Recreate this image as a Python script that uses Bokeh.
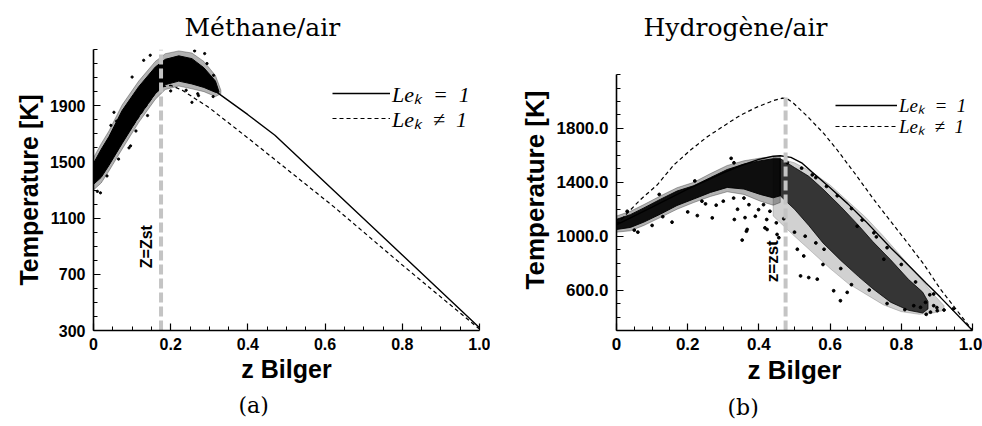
import math
from bokeh.plotting import figure
from bokeh.layouts import row
from bokeh.models import (FixedTicker, Legend, LegendItem, Label, Range1d, Title,
                          PrintfTickFormatter)
from bokeh.embed import file_html
from bokeh.resources import INLINE

# ---------------- data: panel (a) Méthane/air ----------------
title_a = "Méthane/air"
caption_a = "(a)"
x_ticks = [0, 0.2, 0.4, 0.6, 0.8, 1.0]
x_tick_labels = ["0", "0.2", "0.4", "0.6", "0.8", "1.0"]
x_minor = [0.05, 0.1, 0.15, 0.25, 0.3, 0.35, 0.45, 0.5, 0.55, 0.65, 0.7, 0.75, 0.85, 0.9, 0.95]
ya_ticks = [300, 700, 1100, 1500, 1900]
ya_minor = list(range(300, 2301, 100))

a_le1_z = [0.0, 0.1, 0.18, 0.22, 0.27, 0.32, 0.40, 0.47, 0.623, 0.8, 1.0]
a_le1_T = [1350, 1800, 2120, 2140, 2070, 1995, 1836, 1690, 1294, 837, 320]
a_len_z = [0.0, 0.1, 0.17, 0.2, 0.23, 0.3, 0.4, 0.5, 0.623, 0.8, 1.0]
a_len_T = [1350, 1750, 2030, 2045, 2010, 1885, 1670, 1450, 1180, 766, 310]

# dense scatter band: core and its speckled fringe (envelopes)
a_band_z = [0.0, 0.02, 0.04, 0.074, 0.117, 0.16, 0.186, 0.221, 0.255, 0.286, 0.316, 0.325]
a_band_hi = [1490, 1590, 1680, 1865, 2035, 2175, 2230, 2255, 2235, 2170, 2075, 2000]
a_band_lo = [1340, 1390, 1475, 1630, 1820, 1985, 2050, 2075, 2055, 2030, 1995, 1995]
a_fringe_z = [0.0, 0.02, 0.04, 0.074, 0.117, 0.16, 0.186, 0.221, 0.255, 0.286, 0.316, 0.33]
a_fringe_hi = [1530, 1630, 1720, 1905, 2075, 2215, 2270, 2290, 2275, 2215, 2115, 2010]
a_fringe_lo = [1300, 1350, 1435, 1590, 1780, 1945, 2015, 2040, 2020, 2000, 1965, 1985]
# isolated scatter points around the band
a_pts_z = [0.130, 0.147, 0.100, 0.053, 0.096, 0.294, 0.311, 0.255, 0.272,
           0.010, 0.035, 0.060, 0.065, 0.110, 0.140,
           0.200, 0.240, 0.270, 0.288, 0.310, 0.092, 0.018, 0.045, 0.262]
a_pts_T = [2223, 2259, 2104, 1853, 1614, 2200, 2116, 1924, 1972,
           1290, 1400, 1790, 1520, 1720, 1830,
           2005, 2010, 1985, 2271, 1965, 1600, 1280, 1760, 2290]
a_zst = 0.175
a_zst_label = "Z=Zst"
a_zst_label_pos = (0.138, 897)

# ---------------- data: panel (b) Hydrogène/air ----------------
title_b = "Hydrogène/air"
caption_b = "(b)"
yb_ticks = [600, 1000, 1400, 1800]
yb_minor = list(range(300, 2201, 100))

b_le1_z = [0.0, 0.1, 0.2, 0.3, 0.35, 0.4, 0.44, 0.46, 0.49, 0.52, 0.55, 0.6, 0.65, 0.7,
           0.77, 0.82, 0.87, 0.91, 1.0]
b_le1_T = [1085, 1215, 1350, 1470, 1525, 1570, 1594, 1597, 1585, 1545, 1475, 1360, 1240,
           1110, 915, 785, 650, 546, 300]
b_len_z = [0.0, 0.03, 0.067, 0.114, 0.161, 0.208, 0.255, 0.302, 0.348, 0.396, 0.442,
           0.466, 0.48, 0.498, 0.536, 0.582, 0.62, 0.676, 0.723, 0.77, 0.817, 0.863, 0.91, 1.0]
b_len_T = [1085, 1170, 1271, 1380, 1529, 1640, 1738, 1820, 1898, 1960, 2008,
           2025, 2020, 1985, 1890, 1763, 1640, 1443, 1271, 1111, 952, 792, 607, 300]

b_band_z = [0.0, 0.039, 0.077, 0.124, 0.170, 0.217, 0.264, 0.311, 0.358, 0.404, 0.44, 0.46]
b_band_hi = [1125, 1160, 1210, 1275, 1335, 1375, 1435, 1495, 1535, 1560, 1575, 1575]
b_band_lo = [1050, 1065, 1105, 1165, 1228, 1276, 1325, 1362, 1350, 1310, 1285, 1300]
b_bfringe_z = [0.0, 0.039, 0.077, 0.124, 0.170, 0.217, 0.264, 0.311, 0.358, 0.404, 0.44, 0.46]
b_bfringe_hi = [1150, 1185, 1235, 1300, 1360, 1400, 1465, 1525, 1560, 1580, 1592, 1590]
b_bfringe_lo = [1030, 1040, 1080, 1140, 1200, 1250, 1295, 1330, 1310, 1260, 1230, 1250]
b_plume_z = [0.46, 0.50, 0.54, 0.58, 0.63, 0.68, 0.72, 0.77, 0.82, 0.86, 0.875]
b_plume_hi = [1575, 1510, 1445, 1350, 1220, 1080, 960, 825, 680, 585, 515]
b_plume_lo = [1300, 1200, 1080, 950, 820, 700, 610, 510, 450, 430, 460]
b_halo_z = [0.44, 0.50, 0.55, 0.60, 0.65, 0.70, 0.75, 0.80, 0.85, 0.89, 0.92]
b_halo_hi = [1590, 1545, 1475, 1380, 1260, 1140, 1000, 850, 700, 570, 485]
b_halo_lo = [1150, 1000, 880, 760, 650, 570, 490, 440, 420, 430, 450]
b_pts_z = [0.156, 0.227, 0.269, 0.322, 0.329, 0.331, 0.358, 0.361, 0.365, 0.353, 0.372,
           0.390, 0.399, 0.413, 0.422, 0.417, 0.431, 0.449, 0.456, 0.367, 0.423, 0.451,
           0.517, 0.540, 0.564, 0.610, 0.583, 0.508, 0.526, 0.629, 0.648, 0.751, 0.723,
           0.676, 0.854, 0.882, 0.891, 0.901, 0.868, 0.946, 0.891, 0.835, 0.300, 0.280,
           0.340, 0.200, 0.250, 0.060, 0.100,
           0.030, 0.120, 0.220, 0.330, 0.050, 0.130, 0.240,
           0.480, 0.520, 0.560, 0.590, 0.620, 0.660, 0.690, 0.730, 0.760, 0.800, 0.840,
           0.880, 0.550,
           0.470, 0.500, 0.530, 0.560, 0.580, 0.630, 0.660, 0.710, 0.760, 0.810, 0.870,
           0.900, 0.920]
b_pts_T = [1104, 1153, 1136, 1578, 1283, 1124, 1283, 1138, 1037, 971, 1234,
           1148, 1197, 1234, 1124, 1062, 1185, 1099, 989, 1050, 1050, 1013,
           705, 693, 681, 595, 903, 903, 853, 521, 583, 829, 1025,
           1074, 472, 436, 484, 447, 509, 460, 571, 484, 1260, 1230,
           1200, 1180, 1240, 1030, 1080,
           1185, 1310, 1410, 1545, 1045, 1145, 1260,
           1545, 1505, 1435, 1370, 1300, 1205, 1120, 995, 915, 790, 660,
           565, 1455,
           1130, 1030, 1000, 950, 790, 760, 640, 600, 500, 455, 420,
           470, 452]
b_zst = 0.475
b_zst_top = 2030
b_zst_label = "z=zst"
b_zst_label_pos = (0.437, 814)

legend_labels = ["Leₖ\u2002=\u20021", "Leₖ\u2002≠\u20021"]
x_label = "z Bilger"
y_label = "Temperature [K]"

SANS = "Liberation Sans"
SERIF = "DejaVu Serif"


def style_axes(p, yticks, yminor, tick_size, label_size, ybounds):
    p.xaxis.ticker = FixedTicker(ticks=x_ticks, minor_ticks=x_minor)
    p.xaxis.major_label_overrides = {t: s for t, s in zip(x_ticks, x_tick_labels)}
    p.yaxis.ticker = FixedTicker(ticks=yticks, minor_ticks=yminor)
    p.yaxis.bounds = ybounds
    for ax in (p.xaxis, p.yaxis):
        ax.axis_line_width = 1.6
        ax.axis_line_color = "black"
        ax.major_tick_in = 7
        ax.major_tick_out = 0
        ax.minor_tick_in = 4
        ax.minor_tick_out = 0
        ax.major_tick_line_width = 1.2
        ax.minor_tick_line_width = 1.0
        ax.major_label_text_font = SANS
        ax.major_label_text_font_style = "bold"
        ax.major_label_text_font_size = tick_size
        ax.major_label_text_color = "black"
        ax.axis_label_text_font = SANS
        ax.axis_label_text_font_style = "bold"
        ax.axis_label_text_font_size = label_size
        ax.axis_label_text_color = "black"
    p.xaxis.axis_label = x_label
    p.yaxis.axis_label = y_label
    p.xaxis.major_label_standoff = 7
    p.yaxis.major_label_standoff = 8
    p.xaxis.axis_label_standoff = 2
    p.yaxis.axis_label_standoff = 4
    p.xgrid.visible = False
    p.ygrid.visible = False
    p.outline_line_color = None


def make_panel(width, yrange, ybounds, borders, tick_size, label_size,
               yticks, yminor, title, title_offset, caption, caption_offset):
    p = figure(width=width, height=426, output_backend="svg", toolbar_location=None,
               x_range=Range1d(0, 1.0), y_range=Range1d(*yrange),
               min_border_left=borders[0], min_border_right=borders[1],
               min_border_top=borders[2], min_border_bottom=borders[3])
    p.background_fill_color = "white"
    p.border_fill_color = "white"
    p.title.text = title
    p.title.align = "left"
    p.title.offset = title_offset
    p.title.text_font = SERIF
    p.title.text_font_size = "25px"
    p.title.text_font_style = "normal"
    p.title.text_color = "black"
    p.title.standoff = 15
    p.add_layout(Title(text=caption, align="left", offset=caption_offset,
                       text_font=SERIF, text_font_size="22px", text_font_style="normal",
                       text_color="black", standoff=10), "below")
    style_axes(p, yticks, yminor, tick_size, label_size, ybounds)
    return p


def add_legend(p, r1, r2, x, y1, y2, gw, gh, fsize):
    for lab, r, y in ((legend_labels[0], r1, y1), (legend_labels[1], r2, y2)):
        leg = Legend(items=[LegendItem(label=lab, renderers=[r])],
                     location=(x, y), glyph_width=gw, glyph_height=gh, label_height=gh,
                     spacing=0, padding=0, margin=0, label_standoff=2,
                     border_line_alpha=0, background_fill_alpha=0,
                     label_text_font="Liberation Serif", label_text_font_style="italic",
                     label_text_font_size=fsize, label_text_color="black")
        p.add_layout(leg)


def band(p, z, hi, lo, alpha):
    p.patch(z + z[::-1], hi + lo[::-1], fill_color="black", fill_alpha=alpha,
            line_color="black", line_alpha=alpha, line_width=1)


# ---------------- panel (a) ----------------
pa = make_panel(490, (300, 2300), (300, 2300), (93, 11, 49, 96), "16px", "25px",
                ya_ticks, ya_minor, title_a, 91, caption_a, 145)
ra1 = pa.line(a_le1_z, a_le1_T, line_color="black", line_width=1.4)
ra2 = pa.line(a_len_z, a_len_T, line_color="black", line_width=1.2, line_dash="4 3")
band(pa, a_fringe_z, a_fringe_hi, a_fringe_lo, 0.3)
band(pa, a_band_z, a_band_hi, a_band_lo, 1.0)
pa.scatter(a_pts_z, a_pts_T, size=2.3, color="black")
pa.segment(x0=[a_zst], y0=[300], x1=[a_zst], y1=[2300], line_color="#c4c4c4",
           line_width=4, line_dash="10 4")
pa.add_layout(Label(x=a_zst_label_pos[0], y=a_zst_label_pos[1], text=a_zst_label,
                    angle=math.pi / 2, text_font=SANS, text_font_style="bold",
                    text_color="black",
                    text_font_size="16px", text_align="center", text_baseline="middle"))
add_legend(pa, ra1, ra2, 239, 222, 197, 58, 26, "22px")

# ---------------- panel (b) ----------------
pb = make_panel(492, (300, 2386), (300, 2200), (126, 10, 49, 96), "17px", "26px",
                yb_ticks, yb_minor, title_b, 27, caption_b, 111)
pb.yaxis.formatter = PrintfTickFormatter(format="%.1f")
rb1 = pb.line(b_le1_z, b_le1_T, line_color="black", line_width=1.4)
rb2 = pb.line(b_len_z, b_len_T, line_color="black", line_width=1.2, line_dash="4 3")
band(pb, b_halo_z, b_halo_hi, b_halo_lo, 0.18)
band(pb, b_plume_z, b_plume_hi, b_plume_lo, 0.75)
band(pb, b_bfringe_z, b_bfringe_hi, b_bfringe_lo, 0.3)
band(pb, b_band_z, b_band_hi, b_band_lo, 0.92)
pb.scatter(b_pts_z, b_pts_T, size=2.8, color="black")
pb.segment(x0=[b_zst], y0=[300], x1=[b_zst], y1=[b_zst_top], line_color="#c4c4c4",
           line_width=4, line_dash="10 4")
pb.add_layout(Label(x=b_zst_label_pos[0], y=b_zst_label_pos[1], text=b_zst_label,
                    angle=math.pi / 2, text_font=SANS, text_font_style="bold",
                    text_color="black",
                    text_font_size="17px", text_align="center", text_baseline="middle"))
add_legend(pb, rb1, rb2, 219, 212, 191, 62, 22, "19px")

layout = row(pa, pb)
open("out.html", "w").write(file_html(layout, INLINE))
